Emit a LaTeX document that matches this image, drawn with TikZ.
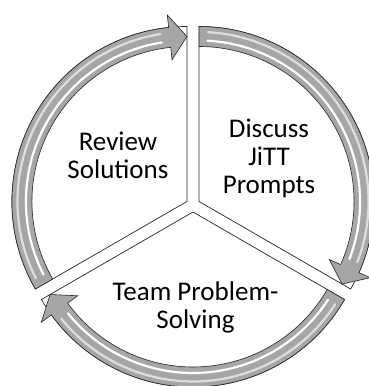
\documentclass[tikz,border=0pt]{standalone}
\usepackage{fontspec}
\setmainfont{Carlito}
\usepackage{tikz}

\definecolor{bandgray}{RGB}{166,166,166}
\definecolor{glint}{RGB}{222,222,222}

\begin{document}
\begin{tikzpicture}[x=1pt,y=1pt,
        sector/.style={draw=black!85,line width=0.7pt,fill=white},
        band/.style={draw=black!85,line width=0.6pt,fill=bandgray,line join=miter},
        shine/.style={line width=2.2pt,line cap=round},
        label/.style={align=center,font=\fontsize{27}{28}\selectfont}
    ]
    \useasboundingbox (-193,-181) rectangle (176,205);

    % left piece
    \begin{scope}[shift={(150:7)}]
        \draw [sector] (0,0) -- (210:175) arc[start angle=210,end angle=90,radius=175] -- cycle;
        \draw [band] (210:175) arc[start angle=210,end angle=96,radius=175]
            -- (96:187.5) -- (90:165) -- (96:142.5) -- (96:155)
            arc[start angle=96,end angle=210,radius=155] -- cycle;
        \draw [shine,glint] (207:169.5) arc[start angle=207,end angle=99,radius=169.5];
        \draw [shine,white] (207:161) arc[start angle=207,end angle=99,radius=161];
    \end{scope}

    % right piece
    \begin{scope}[shift={(30:7)}]
        \draw [sector] (0,0) -- (90:175) arc[start angle=90,end angle=-30,radius=175] -- cycle;
        \draw [band] (90:175) arc[start angle=90,end angle=-24,radius=175]
            -- (-24:187.5) -- (-30:165) -- (-24:142.5) -- (-24:155)
            arc[start angle=-24,end angle=90,radius=155] -- cycle;
        \draw [shine,glint] (87:169.5) arc[start angle=87,end angle=-21,radius=169.5];
        \draw [shine,white] (87:161) arc[start angle=87,end angle=-21,radius=161];
    \end{scope}

    % bottom piece
    \begin{scope}[shift={(270:7)}]
        \draw [sector] (0,0) -- (-30:175) arc[start angle=-30,end angle=-150,radius=175] -- cycle;
        \draw [band] (-30:175) arc[start angle=-30,end angle=-144,radius=175]
            -- (-144:187.5) -- (-150:165) -- (-144:142.5) -- (-144:155)
            arc[start angle=-144,end angle=-30,radius=155] -- cycle;
        \draw [shine,glint] (-33:169.5) arc[start angle=-33,end angle=-141,radius=169.5];
        \draw [shine,white] (-33:161) arc[start angle=-33,end angle=-141,radius=161];
    \end{scope}

    \node [label] (review) at (-75,50) {Review\\Solutions};
    \node [label] (discuss) at (76,47) {Discuss\\JiTT\\Prompts};
    \node [label] (team) at (2.5,-102) {Team Problem-\\Solving};
\end{tikzpicture}
\end{document}
